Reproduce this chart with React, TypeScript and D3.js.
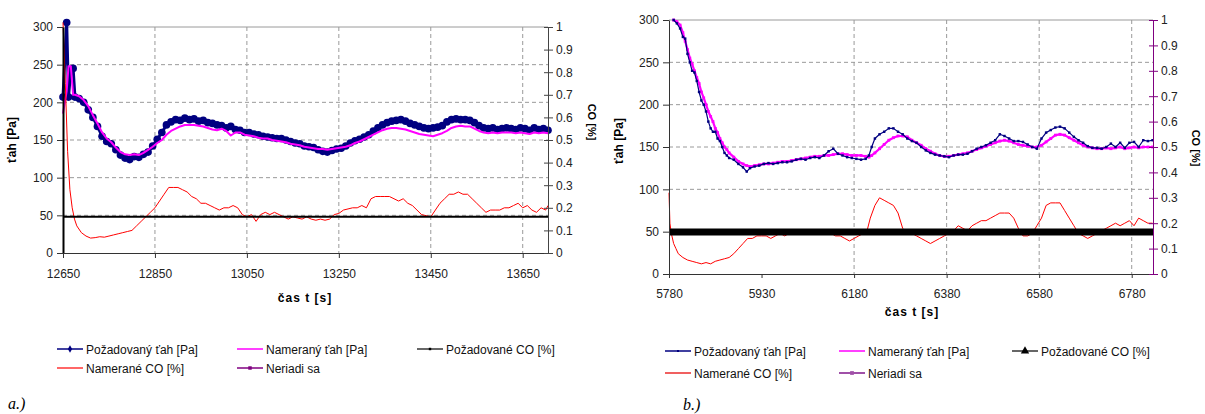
import React, { useRef, useEffect } from 'react'
import * as d3 from 'd3'

// ---- a.) chart data ----
const timeTahA = [12650, 12658, 12662, 12667, 12672, 12676, 12685, 12695, 12705, 12715, 12725, 12735, 12745, 12755, 12765, 12775, 12785, 12795, 12805, 12815, 12825, 12835, 12845, 12855, 12865, 12875, 12885, 12895, 12905, 12915, 12925, 12935, 12945, 12955, 12965, 12975, 12985, 12995, 13005, 13015, 13025, 13035, 13045, 13055, 13065, 13075, 13085, 13095, 13105, 13115, 13125, 13135, 13145, 13155, 13165, 13175, 13185, 13195, 13205, 13215, 13225, 13235, 13245, 13255, 13265, 13275, 13285, 13295, 13305, 13315, 13325, 13335, 13345, 13355, 13365, 13375, 13385, 13395, 13405, 13415, 13425, 13435, 13445, 13455, 13465, 13475, 13485, 13495, 13505, 13515, 13525, 13535, 13545, 13555, 13565, 13575, 13585, 13595, 13605, 13615, 13625, 13635, 13645, 13655, 13665, 13675, 13685, 13695, 13705]
const pozTahA = [207, 306, 207, 243, 245, 207, 205, 200, 190, 180, 168, 155, 148, 145, 137, 130, 126, 124, 128, 127, 131, 134, 142, 151, 160, 170, 174, 177, 176, 179, 177, 178, 175, 176, 173, 172, 170, 169, 166, 168, 164, 163, 160, 160, 158, 157, 155, 154, 153, 152, 152, 150, 148, 146, 145, 142, 141, 140, 137, 135, 134, 136, 138, 139, 142, 146, 149, 151, 154, 157, 162, 166, 170, 173, 175, 176, 177, 175, 172, 170, 168, 166, 165, 166, 167, 169, 174, 177, 178, 177, 177, 176, 173, 169, 166, 165, 166, 164, 165, 166, 165, 164, 166, 165, 163, 166, 164, 165, 163]
const namTahA = [185, 215, 248, 248, 210, 210, 208, 203, 195, 183, 172, 160, 152, 147, 140, 134, 131, 130, 131, 130, 133, 137, 141, 146, 150, 157, 162, 165, 168, 170, 170, 170, 169, 168, 166, 164, 163, 165, 162, 156, 160, 160, 157, 156, 155, 153, 152, 152, 150, 149, 148, 147, 145, 144, 143, 141, 140, 139, 138, 138, 137, 138, 139, 140, 141, 143, 146, 148, 151, 154, 157, 160, 163, 165, 166, 166, 165, 164, 162, 160, 158, 157, 156, 155, 157, 159, 162, 166, 168, 169, 168, 168, 165, 162, 160, 159, 160, 159, 160, 160, 160, 159, 160, 159, 158, 160, 159, 160, 159]
const timeCoA = [12650, 12655, 12660, 12665, 12670, 12675, 12680, 12690, 12700, 12710, 12720, 12730, 12740, 12750, 12760, 12770, 12780, 12790, 12800, 12810, 12820, 12830, 12840, 12850, 12860, 12870, 12880, 12890, 12900, 12910, 12920, 12930, 12940, 12950, 12960, 12970, 12980, 12990, 13000, 13010, 13020, 13030, 13040, 13050, 13060, 13070, 13080, 13090, 13100, 13110, 13120, 13130, 13140, 13150, 13160, 13170, 13180, 13190, 13200, 13210, 13220, 13230, 13240, 13250, 13260, 13270, 13280, 13290, 13300, 13310, 13320, 13330, 13340, 13350, 13360, 13370, 13380, 13390, 13400, 13410, 13420, 13430, 13440, 13450, 13460, 13470, 13480, 13490, 13500, 13510, 13520, 13530, 13540, 13550, 13560, 13570, 13580, 13590, 13600, 13610, 13620, 13630, 13640, 13650, 13660, 13670, 13680, 13690, 13700, 13705]
const namCoA = [1.02, 0.75, 0.45, 0.28, 0.2, 0.15, 0.12, 0.09, 0.075, 0.066, 0.068, 0.072, 0.07, 0.075, 0.08, 0.085, 0.09, 0.095, 0.1, 0.12, 0.14, 0.16, 0.18, 0.2, 0.23, 0.26, 0.29, 0.29, 0.29, 0.28, 0.27, 0.25, 0.24, 0.22, 0.22, 0.21, 0.2, 0.19, 0.2, 0.2, 0.21, 0.2, 0.17, 0.16, 0.17, 0.14, 0.17, 0.18, 0.17, 0.18, 0.17, 0.16, 0.15, 0.16, 0.155, 0.15, 0.16, 0.15, 0.145, 0.15, 0.145, 0.15, 0.17, 0.175, 0.19, 0.195, 0.2, 0.2, 0.21, 0.2, 0.24, 0.25, 0.25, 0.25, 0.25, 0.24, 0.23, 0.24, 0.22, 0.21, 0.19, 0.17, 0.165, 0.16, 0.19, 0.22, 0.24, 0.26, 0.26, 0.27, 0.26, 0.26, 0.24, 0.22, 0.2, 0.18, 0.19, 0.19, 0.19, 0.2, 0.2, 0.21, 0.22, 0.2, 0.21, 0.19, 0.18, 0.2, 0.19, 0.21]
const timePozCoA = [12650, 13705]
const pozCoA = [0.16, 0.16]
const neriadiSaA: number[] = []
const xTicksA = [12650, 12850, 13050, 13250, 13450, 13650]
const xTickLabelsA = ['12650', '12850', '13050', '13250', '13450', '13650']

// ---- b.) chart data ----
const timeTahB = [5790, 5797, 5804, 5810, 5815, 5820, 5825, 5830, 5835, 5840, 5845, 5850, 5855, 5860, 5865, 5870, 5875, 5880, 5885, 5890, 5895, 5900, 5905, 5910, 5920, 5930, 5940, 5948, 5955, 5965, 5975, 5985, 5995, 6005, 6015, 6025, 6035, 6045, 6055, 6065, 6075, 6085, 6095, 6105, 6115, 6125, 6135, 6145, 6155, 6165, 6175, 6185, 6195, 6205, 6212, 6218, 6225, 6235, 6245, 6255, 6265, 6275, 6285, 6295, 6305, 6315, 6325, 6335, 6345, 6355, 6365, 6375, 6385, 6395, 6405, 6415, 6425, 6435, 6445, 6455, 6465, 6475, 6485, 6495, 6505, 6515, 6525, 6535, 6545, 6555, 6565, 6575, 6585, 6595, 6605, 6615, 6625, 6635, 6645, 6655, 6665, 6675, 6685, 6695, 6705, 6715, 6725, 6735, 6745, 6755, 6765, 6775, 6785, 6795, 6805, 6815, 6825]
const pozTahB = [300, 296, 290, 280, 278, 260, 250, 240, 238, 228, 215, 205, 200, 192, 180, 172, 168, 168, 160, 157, 150, 143, 140, 137, 135, 130, 126, 121, 125, 127, 128, 130, 131, 130, 131, 132, 132, 133, 135, 136, 135, 137, 138, 137, 140, 145, 148, 142, 140, 138, 137, 136, 135, 136, 140, 150, 160, 165, 168, 172, 172, 168, 165, 160, 157, 155, 150, 146, 143, 141, 140, 139, 138, 140, 141, 141, 142, 145, 148, 150, 152, 155, 158, 165, 163, 160, 157, 157, 156, 153, 150, 148, 160, 167, 170, 173, 174, 172, 167, 162, 158, 155, 151, 149, 149, 148, 150, 154, 150, 155, 149, 155, 156, 150, 158, 157, 158]
const namTahB = [300, 298, 294, 285, 275, 265, 255, 248, 240, 232, 225, 215, 208, 200, 192, 186, 180, 172, 167, 160, 155, 150, 147, 143, 138, 133, 130, 128, 127, 128, 129, 130, 130, 131, 132, 133, 133, 134, 135, 136, 137, 138, 139, 139, 140, 140, 141, 142, 142, 141, 140, 140, 140, 139, 138, 140, 143, 148, 153, 158, 161, 163, 163, 162, 158, 155, 152, 148, 145, 142, 140, 139, 139, 140, 141, 142, 143, 145, 147, 149, 151, 153, 155, 157, 158, 157, 155, 153, 152, 151, 150, 150, 152, 156, 160, 164, 165, 164, 161, 158, 155, 152, 150, 149, 148, 148, 149, 148, 149, 150, 148, 149, 150, 149, 150, 150, 150]
const timeCoB = [5780, 5782, 5785, 5790, 5795, 5800, 5810, 5820, 5830, 5840, 5850, 5860, 5870, 5880, 5890, 5900, 5910, 5920, 5930, 5940, 5950, 5960, 5970, 5980, 5990, 6000, 6010, 6020, 6030, 6040, 6050, 6060, 6070, 6080, 6090, 6100, 6110, 6120, 6130, 6140, 6150, 6160, 6170, 6180, 6190, 6200, 6208, 6215, 6225, 6235, 6245, 6255, 6265, 6275, 6285, 6295, 6305, 6315, 6325, 6335, 6345, 6355, 6365, 6375, 6385, 6395, 6405, 6415, 6425, 6435, 6445, 6455, 6465, 6475, 6485, 6495, 6505, 6515, 6525, 6535, 6545, 6555, 6565, 6575, 6585, 6595, 6605, 6615, 6625, 6635, 6645, 6655, 6665, 6675, 6685, 6695, 6705, 6715, 6725, 6735, 6745, 6755, 6765, 6775, 6785, 6795, 6805, 6815, 6825]
const namCoB = [0.32, 0.2, 0.16, 0.12, 0.1, 0.08, 0.065, 0.055, 0.05, 0.045, 0.04, 0.045, 0.04, 0.05, 0.055, 0.06, 0.065, 0.08, 0.1, 0.12, 0.14, 0.14, 0.15, 0.15, 0.15, 0.14, 0.15, 0.16, 0.15, 0.16, 0.17, 0.165, 0.16, 0.17, 0.17, 0.165, 0.17, 0.16, 0.16, 0.15, 0.15, 0.14, 0.13, 0.14, 0.15, 0.16, 0.17, 0.22, 0.27, 0.3, 0.29, 0.28, 0.27, 0.24, 0.18, 0.16, 0.16, 0.15, 0.14, 0.13, 0.12, 0.13, 0.14, 0.15, 0.16, 0.17, 0.19, 0.18, 0.17, 0.19, 0.2, 0.21, 0.21, 0.22, 0.23, 0.24, 0.24, 0.24, 0.22, 0.18, 0.15, 0.15, 0.16, 0.19, 0.22, 0.27, 0.28, 0.28, 0.28, 0.25, 0.22, 0.19, 0.16, 0.15, 0.14, 0.15, 0.16, 0.17, 0.18, 0.19, 0.2, 0.19, 0.2, 0.21, 0.19, 0.22, 0.21, 0.2, 0.2]
const timePozCoB = [5780, 6826]
const pozCoB = [0.165, 0.165]
const neriadiSaB: number[] = []
const xTicksB = [5780, 5980, 6180, 6380, 6580, 6780]
const xTickLabelsB = ['5780', '5930', '6180', '6380', '6580', '6780']

const yTicks = [0, 50, 100, 150, 200, 250, 300]
const y2Ticks = [0, 0.1, 0.2, 0.3, 0.4, 0.5, 0.6, 0.7, 0.8, 0.9, 1]
const y2TickLabels = ['0', '0.1', '0.2', '0.3', '0.4', '0.5', '0.6', '0.7', '0.8', '0.9', '1']
const legendLabels = ['Požadovaný ťah [Pa]', 'Nameraný ťah [Pa]', 'Požadované CO [%]', 'Namerané CO [%]', 'Neriadi sa']

const FONT = "'Liberation Sans', Arial, sans-serif"

const drawPanel = (svg, p) => {
  const x = d3.scaleLinear().domain(p.xDomain).range([p.left, p.right])
  const y = d3.scaleLinear().domain([0, 300]).range([p.bottom, p.top])
  const y2 = d3.scaleLinear().domain([0, 1]).range([p.bottom, p.top])
  const g = svg.append('g').style('font-family', FONT)

  // grid lines
  g.selectAll('.hgrid').data(yTicks.filter(v => v > 0 && v < 300)).join('line')
    .attr('x1', p.left).attr('x2', p.right)
    .attr('y1', d => y(d)).attr('y2', d => y(d))
    .attr('stroke', '#9a9a9a').attr('stroke-dasharray', '4,3')
  g.selectAll('.vgrid').data(p.gridX).join('line')
    .attr('x1', d => x(d)).attr('x2', d => x(d))
    .attr('y1', p.top).attr('y2', p.bottom)
    .attr('stroke', '#9a9a9a').attr('stroke-dasharray', '4,3')
  g.append('line').attr('x1', p.left).attr('x2', p.right).attr('y1', p.top).attr('y2', p.top)
    .attr('stroke', '#9a9a9a')

  const lineY = (times, vals, scale) => d3.line()
    .x(d => x(d[0])).y(d => scale(d[1]))(d3.zip(times, vals))

  // series
  p.series.forEach(s => {
    const scale = s.axis === 2 ? y2 : y
    g.append('path').attr('d', lineY(s.t, s.v, scale))
      .attr('fill', 'none').attr('stroke', s.color).attr('stroke-width', s.width)
      .attr('stroke-linejoin', 'round')
    if (s.marker) {
      g.selectAll(null).data(d3.zip(s.t, s.v)).join('path')
        .attr('transform', d => `translate(${x(d[0])},${scale(d[1])})`)
        .attr('d', d3.symbol(s.marker, s.markerSize)())
        .attr('fill', s.color)
    }
  })

  // axes
  const leftAxis = g.append('g').attr('transform', `translate(${p.left},0)`)
    .call(d3.axisLeft(y).tickValues(yTicks).tickSize(6).tickSizeOuter(0).tickPadding(4))
  leftAxis.select('.domain').attr('stroke', p.leftAxisColor).attr('stroke-width', p.leftAxisWidth)
  leftAxis.selectAll('line').attr('stroke', '#333')
  leftAxis.selectAll('text').style('font-size', '12px').attr('fill', '#222').style('font-family', FONT)

  const bottomAxis = g.append('g').attr('transform', `translate(0,${p.bottom})`)
    .call(d3.axisBottom(x).tickValues(p.xTicks).tickFormat((d, i) => p.xTickLabels[i])
      .tickSize(p.xTickSize).tickSizeOuter(0).tickPadding(p.xTickPadding))
  bottomAxis.select('.domain').attr('stroke', '#333')
  bottomAxis.selectAll('line').attr('stroke', '#333')
  bottomAxis.selectAll('text').style('font-size', '12px').attr('fill', '#222').style('font-family', FONT)

  const rightAxis = g.append('g').attr('transform', `translate(${p.right},0)`)
    .call(d3.axisRight(y2).tickValues(y2Ticks).tickFormat((d, i) => y2TickLabels[i])
      .tickSize(5).tickSizeOuter(0).tickPadding(3))
  rightAxis.select('.domain').attr('stroke', p.rightAxisColor)
  rightAxis.selectAll('.tick line').attr('x1', -4).attr('stroke', p.rightAxisColor)
  rightAxis.selectAll('text').style('font-size', '12px').attr('fill', '#222').style('font-family', FONT)

  // axis titles
  g.append('text').attr('transform', `translate(${p.yTitle[0]},${p.yTitle[1]}) rotate(-90)`)
    .attr('text-anchor', 'middle').style('font-size', '12px').style('font-weight', 'bold')
    .text('ťah [Pa]')
  g.append('text').attr('transform', `translate(${p.y2Title[0]},${p.y2Title[1]}) rotate(90)`)
    .attr('text-anchor', 'middle').style('font-size', '11px').style('font-weight', 'bold')
    .text('CO [%]')
  g.append('text').attr('x', p.xTitle[0]).attr('y', p.xTitle[1])
    .attr('text-anchor', 'middle').style('font-size', '12px').style('font-weight', 'bold')
    .style('letter-spacing', '1px')
    .text('čas t [s]')

  // legend
  const lg = g.selectAll('.legend').data(p.legend).join('g')
    .attr('transform', d => `translate(${d.x},${d.y})`)
  lg.append('line').attr('x1', 0).attr('x2', 26).attr('y1', 0).attr('y2', 0)
    .attr('stroke', d => d.color).attr('stroke-width', d => d.width)
  lg.filter(d => d.marker).append('path')
    .attr('transform', 'translate(13,0)')
    .attr('d', d => d3.symbol(d.marker, d.markerSize)())
    .attr('fill', d => d.color)
  lg.append('text').attr('x', 29).attr('y', 4.5)
    .style('font-size', '12px').attr('fill', '#111')
    .text(d => d.label)

  svg.append('text').attr('x', p.caption[0]).attr('y', p.caption[1])
    .style('font-family', "'Liberation Serif', 'DejaVu Serif', serif")
    .style('font-style', 'italic').style('font-size', '16px')
    .text(p.captionText)
}

export default function App() {
  const ref = useRef(null)

  useEffect(() => {
    const svg = d3.select(ref.current)
    svg.selectAll('*').remove()

    drawPanel(svg, {
      xDomain: [12650, 13705], left: 63, right: 548, top: 27, bottom: 253,
      xTicks: xTicksA, xTickLabels: xTickLabelsA, gridX: xTicksA.slice(1),
      xTickSize: 5, xTickPadding: 11,
      leftAxisColor: '#000', leftAxisWidth: 2, rightAxisColor: '#444',
      yTitle: [16, 140], y2Title: [588, 122], xTitle: [305, 302],
      series: [
        { t: timeTahA, v: pozTahA, color: '#000080', width: 3, marker: d3.symbolCircle, markerSize: 46 },
        { t: timeTahA, v: namTahA, color: '#ff00ff', width: 2 },
        { t: timeCoA, v: namCoA, color: '#ff0000', width: 1, axis: 2 },
        { t: timePozCoA, v: pozCoA, color: '#000', width: 2, axis: 2 },
        { t: timeTahA.slice(0, neriadiSaA.length), v: neriadiSaA, color: '#800080', width: 1 },
      ],
      legend: [
        { x: 57, y: 349, label: legendLabels[0], color: '#000080', width: 1.5, marker: d3.symbolDiamond, markerSize: 16 },
        { x: 237, y: 349, label: legendLabels[1], color: '#ff00ff', width: 1.5 },
        { x: 417, y: 349, label: legendLabels[2], color: '#000', width: 1.2, marker: d3.symbolSquare, markerSize: 6 },
        { x: 57, y: 368, label: legendLabels[3], color: '#ff0000', width: 1.2 },
        { x: 237, y: 368, label: legendLabels[4], color: '#800080', width: 1.5, marker: d3.symbolSquare, markerSize: 12 },
      ],
      caption: [8, 409], captionText: 'a.)',
    })

    drawPanel(svg, {
      xDomain: [5780, 6826], left: 669, right: 1153, top: 20, bottom: 274,
      xTicks: xTicksB, xTickLabels: xTickLabelsB, gridX: xTicksB.slice(2),
      xTickSize: 4, xTickPadding: 11,
      leftAxisColor: '#333', leftAxisWidth: 1, rightAxisColor: '#800080',
      yTitle: [623, 141], y2Title: [1192, 148], xTitle: [912, 316],
      series: [
        { t: timeTahB, v: namTahB, color: '#ff00ff', width: 2.2, marker: d3.symbolSquare, markerSize: 8 },
        { t: timeTahB, v: pozTahB, color: '#000080', width: 1.2, marker: d3.symbolSquare, markerSize: 6 },
        { t: timeCoB, v: namCoB, color: '#ff0000', width: 1, axis: 2 },
        { t: timePozCoB, v: pozCoB, color: '#000', width: 7, axis: 2 },
        { t: timeTahB.slice(0, neriadiSaB.length), v: neriadiSaB, color: '#800080', width: 1 },
      ],
      legend: [
        { x: 665, y: 351, label: legendLabels[0], color: '#000080', width: 1.5, marker: d3.symbolSquare, markerSize: 4 },
        { x: 839, y: 351, label: legendLabels[1], color: '#ff00ff', width: 1.5 },
        { x: 1012, y: 351, label: legendLabels[2], color: '#000', width: 1.2, marker: d3.symbolTriangle, markerSize: 30 },
        { x: 665, y: 373, label: legendLabels[3], color: '#f06060', width: 2 },
        { x: 839, y: 373, label: legendLabels[4], color: '#a050a8', width: 2, marker: d3.symbolSquare, markerSize: 14 },
      ],
      caption: [683, 410], captionText: 'b.)',
    })
  }, [])

  return (
    <svg
      ref={ref}
      width={1205}
      height={414}
      style={{ position: 'absolute', left: 0, top: 0, background: '#fff' }}
    />
  )
}
